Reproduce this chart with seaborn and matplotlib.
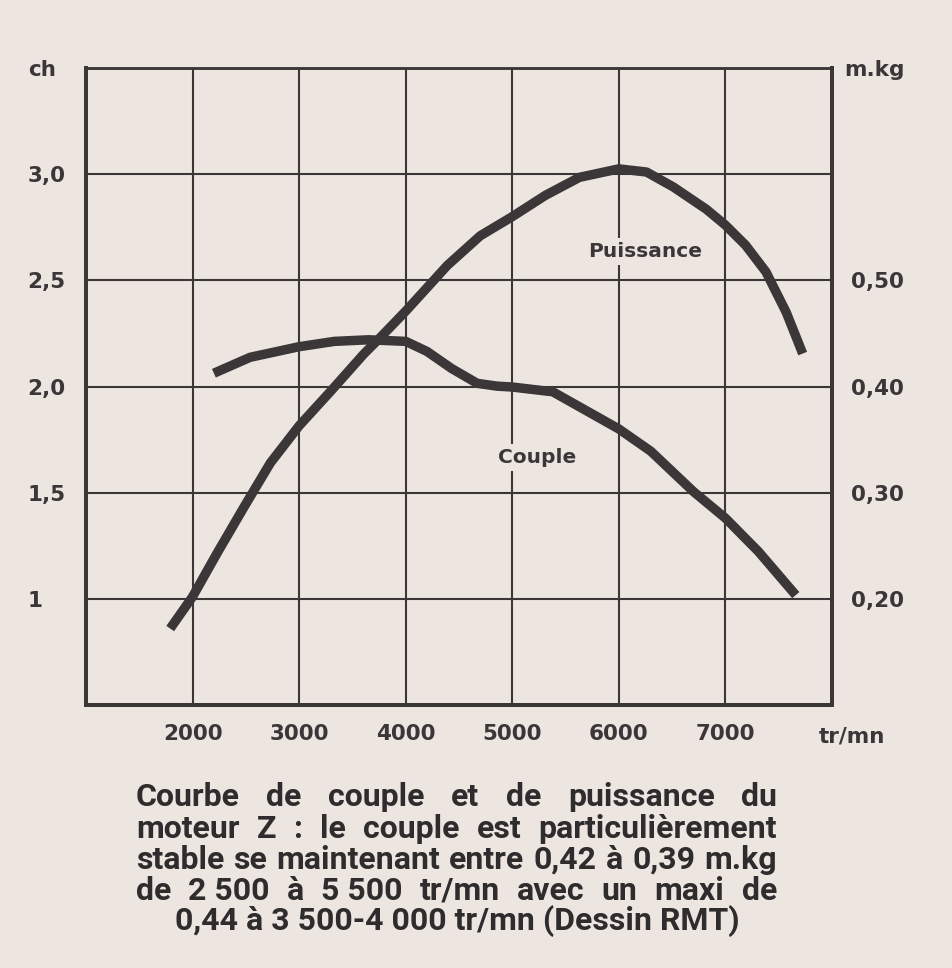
import numpy as np
import pandas as pd
import matplotlib
matplotlib.use("Agg")
import matplotlib.pyplot as plt
import seaborn as sns

# puissance (ch) vs régime (tr/mn)
rpm_p = [1790, 2000, 2230, 2480, 2730, 3000, 3300, 3610, 3760, 4000, 4390,
         4700, 5000, 5310, 5630, 6000, 6260, 6510, 6820, 7000, 7190, 7380,
         7570, 7725]
ch = [0.86, 1.01, 1.215, 1.43, 1.64, 1.815, 1.98, 2.155, 2.23, 2.355, 2.57,
      2.71, 2.80, 2.90, 2.985, 3.025, 3.01, 2.94, 2.835, 2.76, 2.665, 2.54,
      2.35, 2.155]

# couple (m.kg) vs régime (tr/mn)
rpm_c = [2200, 2540, 3000, 3330, 3650, 4000, 4200, 4430, 4670, 4860, 5000,
         5380, 5690, 6000, 6300, 6700, 7000, 7310, 7660]
mkg = [0.4125, 0.4275, 0.4375, 0.4425, 0.444, 0.4425, 0.433, 0.417, 0.403,
       0.4003, 0.3995, 0.395, 0.3775, 0.360, 0.339, 0.301, 0.276, 0.2445,
       0.2035]

x_ticks = [2000, 3000, 4000, 5000, 6000, 7000]
x_labels = ["2000", "3000", "4000", "5000", "6000", "7000"]
ch_ticks = [1.0, 1.5, 2.0, 2.5, 3.0, 3.5]
ch_labels = ["1", "1,5", "2,0", "2,5", "3,0", "ch"]
mkg_ticks = [0.2, 0.3, 0.4, 0.5, 0.7]
mkg_labels = ["0,20", "0,30", "0,40", "0,50", "m.kg"]

caption = [
    "Courbe de couple et de puissance du",
    "moteur Z : le couple est particulièrement",
    "stable se maintenant entre 0,42 à 0,39 m.kg",
    "de 2\u00a0500 à 5\u00a0500 tr/mn avec un maxi de",
    "0,44 à 3\u00a0500-4\u00a0000 tr/mn (Dessin RMT)",
]

bg = "#ede6e0"
ink = "#3b3739"

sns.set_theme(style="white", rc={"axes.facecolor": bg, "figure.facecolor": bg})
plt.rcParams["font.family"] = ["DejaVu Sans"]

W, H = 952, 968
fig = plt.figure(figsize=(W / 100, H / 100), dpi=100)
ax = fig.add_axes([86 / W, 1 - 705 / H, (832 - 86) / W, (705 - 68) / H])

df_p = pd.DataFrame({"rpm": rpm_p, "ch": ch})
df_c = pd.DataFrame({"rpm": rpm_c, "mkg": mkg})

sns.lineplot(data=df_p, x="rpm", y="ch", ax=ax, color=ink, lw=6.8,
             solid_capstyle="butt", solid_joinstyle="round", zorder=3)
ax.set_xlim(1000, 8000)
ax.set_ylim(0.5, 3.5)
ax.set_xticks(x_ticks, x_labels)
ax.set_yticks(ch_ticks, ch_labels)
ax.grid(True, color=ink, lw=1.5)
ax.set_xlabel("")
ax.set_ylabel("")
ax.tick_params(axis="both", length=0, colors=ink, labelsize=15.5)
ax.tick_params(axis="x", pad=14)
ax.tick_params(axis="y", pad=42)
for t in ax.get_yticklabels():
    t.set_ha("left")
for t in ax.get_xticklabels() + ax.get_yticklabels():
    t.set_fontweight("bold")

ax.text(6250, 2.635, "Puissance", ha="center", va="center", fontsize=14.5,
        fontweight="bold", color=ink, zorder=4,
        bbox=dict(facecolor=bg, edgecolor="none", pad=3))
ax.text(5230, 1.665, "Couple", ha="center", va="center", fontsize=14.5,
        fontweight="bold", color=ink, zorder=4,
        bbox=dict(facecolor=bg, edgecolor="none", pad=3))

ax2 = ax.twinx()
sns.lineplot(data=df_c, x="rpm", y="mkg", ax=ax2, color=ink, lw=6.8,
             solid_capstyle="butt", solid_joinstyle="round", zorder=3)
ax2.set_ylim(0.1, 0.7)
ax2.set_yticks(mkg_ticks, mkg_labels)
ax2.set_ylabel("")
ax2.grid(False)
ax2.tick_params(axis="y", length=0, colors=ink, labelsize=15.5, pad=52)
for t in ax2.get_yticklabels():
    t.set_ha("right")
    t.set_fontweight("bold")

for a in (ax, ax2):
    for side, sp in a.spines.items():
        sp.set_visible(True)
        sp.set_color(ink)
        sp.set_linewidth(1.8 if side == "top" else 2.8)

ax.annotate("tr/mn", xy=(1, 0), xycoords="axes fraction", xytext=(20, -31),
            textcoords="offset pixels", ha="center", va="center",
            fontsize=15.5, fontweight="bold", color=ink)

# caption, justified like the printed text
cap_font = dict(family=["Roboto", "Liberation Sans", "DejaVu Sans"],
                fontweight="bold", color="#2f2c2e")
x0, x1 = 136, 777
line_y = [797, 829, 860, 891, 921]
fig.canvas.draw()
renderer = fig.canvas.get_renderer()
probe = fig.text(0, 0, caption[4], fontsize=20, **cap_font)
size = 20 * 562 / probe.get_window_extent(renderer).width
probe.remove()

for i, (line, y) in enumerate(zip(caption, line_y)):
    if i == len(caption) - 1:
        fig.text(457 / W, 1 - y / H, line, ha="center", va="center",
                 fontsize=size, **cap_font)
        continue
    words = line.split(" ")
    arts = [fig.text(0, 1 - y / H, w, ha="left", va="center", fontsize=size,
                     **cap_font) for w in words]
    widths = [a.get_window_extent(renderer).width for a in arts]
    gap = (x1 - x0 - sum(widths)) / (len(words) - 1)
    x = x0
    for a, w in zip(arts, widths):
        a.set_x(x / W)
        x += w + gap

fig.savefig("out.png", dpi=100, facecolor=bg)
